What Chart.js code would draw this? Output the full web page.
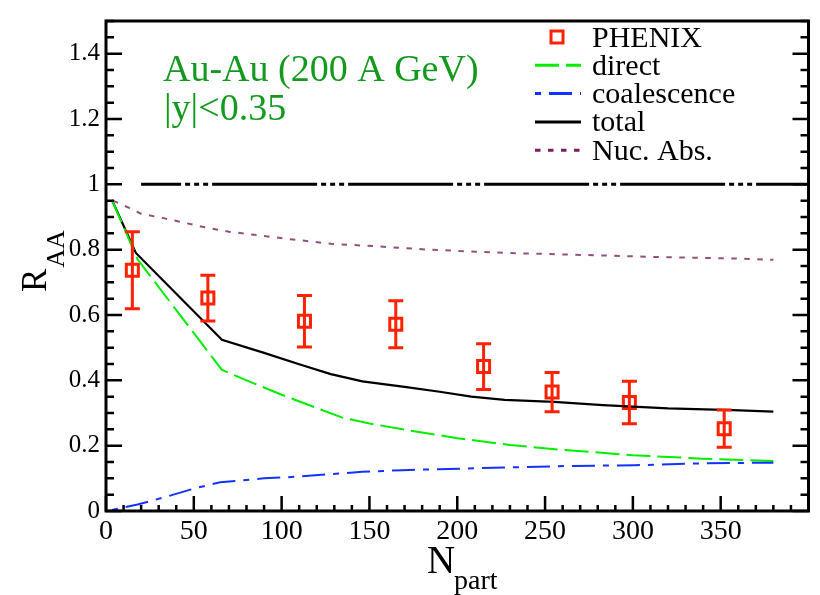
<!DOCTYPE html>
<html>
<head>
<meta charset="utf-8">
<title>J/psi R_AA vs Npart</title>
<script src="https://cdn.jsdelivr.net/npm/chart.js@4/dist/chart.umd.min.js"></script>
<style>
  html, body { margin: 0; padding: 0; background: #fff; }
  canvas { display: block; }
</style>
</head>
<body>
<canvas id="c" width="820" height="595"></canvas>
<script>
// ---- data: number of participants (N_part) and nuclear modification factor R_AA ----
const phenixN   = [15, 58, 113, 165, 215, 254, 298, 352];
const phenixR   = [0.737, 0.652, 0.581, 0.572, 0.442, 0.364, 0.332, 0.252];
const phenixErr = [0.118, 0.070, 0.079, 0.072, 0.070, 0.060, 0.065, 0.057];

const directN = [3.4, 18, 66, 80, 100, 120, 135, 150, 170, 200, 230, 260, 300, 340, 380];
const directR = [0.952, 0.770, 0.432, 0.400, 0.356, 0.315, 0.285, 0.268, 0.249, 0.223, 0.202, 0.187, 0.171, 0.160, 0.153];

const coalN = [3.4, 18, 34, 51, 65, 90, 109, 128, 146, 169, 189, 227, 264, 301, 339, 380];
const coalR = [0.003, 0.020, 0.043, 0.070, 0.088, 0.100, 0.105, 0.113, 0.120, 0.125, 0.128, 0.133, 0.138, 0.140, 0.146, 0.148];

const totalN = [3.4, 17, 66, 90, 110, 128, 146, 170, 190, 208, 227, 255, 283, 320, 357, 380];
const totalR = [0.952, 0.790, 0.524, 0.484, 0.449, 0.419, 0.397, 0.380, 0.365, 0.350, 0.340, 0.334, 0.324, 0.314, 0.309, 0.304];

const nucAbsN = [4, 13.5, 20, 34, 55, 70, 105, 128, 155, 184, 227, 264, 311, 357, 380];
const nucAbsR = [0.950, 0.927, 0.910, 0.895, 0.870, 0.855, 0.832, 0.818, 0.810, 0.800, 0.790, 0.785, 0.778, 0.773, 0.769];

// reference line R_AA = 1
const unityN = [20, 400];
const unityR = [1, 1];

// axis ticks
const xTickValues = [0, 50, 100, 150, 200, 250, 300, 350];
const yTickValues = [0, 0.2, 0.4, 0.6, 0.8, 1, 1.2, 1.4];
const xMinorStep = 10;
const yMinorStep = 0.05;

const legendOrder = ['PHENIX', 'direct', 'coalescence', 'total', 'Nuc. Abs.'];

const SERIF = '"Liberation Serif", "Times New Roman", Times, serif';
const RED = '#ff2200';

const toXY = (xs, ys) => xs.map((x, i) => ({ x: x, y: ys[i] }));

// error bars, frame, inward ticks, legend and labels
const decorations = {
  id: 'decorations',
  afterDatasetsDraw(chart) {
    const ctx = chart.ctx;
    const xs = chart.scales.x, ys = chart.scales.y;
    ctx.save();
    ctx.strokeStyle = RED;
    ctx.lineWidth = 3;
    ctx.setLineDash([]);
    phenixN.forEach((n, i) => {
      const px = xs.getPixelForValue(n);
      const yTop = ys.getPixelForValue(phenixR[i] + phenixErr[i]);
      const yBot = ys.getPixelForValue(phenixR[i] - phenixErr[i]);
      const cap = 7.5;
      ctx.beginPath();
      ctx.moveTo(px, yTop); ctx.lineTo(px, yBot);
      ctx.moveTo(px - cap, yTop); ctx.lineTo(px + cap, yTop);
      ctx.moveTo(px - cap, yBot); ctx.lineTo(px + cap, yBot);
      ctx.stroke();
    });
    ctx.restore();
  },
  afterDraw(chart) {
    const ctx = chart.ctx;
    const { left, right, top, bottom } = chart.chartArea;
    const xs = chart.scales.x, ys = chart.scales.y;
    ctx.save();
    ctx.setLineDash([]);
    ctx.strokeStyle = '#000';

    // inward ticks: bottom axis, left and right axes
    ctx.lineWidth = 2.5;
    ctx.beginPath();
    for (let v = xs.min; v <= xs.max + 1e-9; v += xMinorStep) {
      const px = xs.getPixelForValue(v);
      const major = Math.abs(v % 50) < 1e-6;
      const len = major ? 15 : 6;
      ctx.moveTo(px, bottom); ctx.lineTo(px, bottom - len);
    }
    const nY = Math.round((ys.max - ys.min) / yMinorStep);
    for (let k = 0; k <= nY; k++) {
      const v = ys.min + k * yMinorStep;
      const py = ys.getPixelForValue(v);
      const major = k % 4 === 0;
      const len = major ? 16 : 8;
      ctx.moveTo(left, py); ctx.lineTo(left + len, py);
      ctx.moveTo(right, py); ctx.lineTo(right - len, py);
    }
    ctx.stroke();

    // frame
    ctx.lineWidth = 3;
    ctx.strokeRect(left, top, right - left, bottom - top);

    // legend
    const rowY0 = 37, rowStep = 28.3;
    const sampleX0 = 535, sampleX1 = 581, textX = 592;
    ctx.font = '30px ' + SERIF;
    ctx.textAlign = 'left';
    ctx.textBaseline = 'alphabetic';
    legendOrder.forEach((label, i) => {
      const ds = chart.data.datasets.find(d => d.label === label);
      const y = rowY0 + i * rowStep;
      ctx.save();
      if (ds.showLine === false) {
        ctx.strokeStyle = ds.borderColor;
        ctx.lineWidth = 3;
        ctx.strokeRect(557 - 6, y - 6, 12, 12);
      } else {
        ctx.strokeStyle = ds.legendColor || ds.borderColor;
        ctx.lineWidth = 3;
        ctx.setLineDash(ds.borderDash || []);
        ctx.lineDashOffset = ds.borderDashOffset || 0;
        ctx.beginPath();
        ctx.moveTo(sampleX0, y); ctx.lineTo(sampleX1, y);
        ctx.stroke();
      }
      ctx.restore();
      ctx.fillStyle = '#000';
      ctx.fillText(label, textX, y + 9.5);
    });

    // system label
    ctx.fillStyle = '#139a1e';
    ctx.font = '38px ' + SERIF;
    ctx.fillText('Au-Au (200 A GeV)', 163, 81);
    ctx.fillText('|y|<0.35', 164, 120);

    // x axis title: N_part
    ctx.fillStyle = '#000';
    ctx.font = '39px ' + SERIF;
    ctx.fillText('N', 427, 573);
    ctx.font = '28px ' + SERIF;
    ctx.fillText('part', 454, 589);

    // y axis title: R_AA (rotated)
    ctx.save();
    ctx.translate(46, 292);
    ctx.rotate(-Math.PI / 2);
    ctx.font = '35px ' + SERIF;
    ctx.fillText('R', 0, 0);
    const wR = ctx.measureText('R').width;
    ctx.font = '26px ' + SERIF;
    ctx.fillText('AA', wR + 1, 18);
    ctx.restore();

    ctx.restore();
  }
};

new Chart(document.getElementById('c').getContext('2d'), {
  type: 'line',
  data: {
    datasets: [
      {
        label: 'Nuc. Abs.',
        data: toXY(nucAbsN, nucAbsR),
        borderColor: '#93507f',
        legendColor: '#7b1d60',
        borderWidth: 2,
        borderDash: [5.5, 7.5],
        pointRadius: 0,
        fill: false,
        tension: 0
      },
      {
        label: 'coalescence',
        data: toXY(coalN, coalR),
        borderColor: '#1233ff',
        borderWidth: 2,
        borderDash: [23, 8, 6, 8],
        borderDashOffset: 31,
        pointRadius: 0,
        fill: false,
        tension: 0
      },
      {
        label: 'direct',
        data: toXY(directN, directR),
        borderColor: '#00ee00',
        borderWidth: 2,
        borderDash: [24, 7],
        pointRadius: 0,
        fill: false,
        tension: 0
      },
      {
        label: 'total',
        data: toXY(totalN, totalR),
        borderColor: '#000000',
        borderWidth: 2.2,
        borderDash: [],
        pointRadius: 0,
        fill: false,
        tension: 0
      },
      {
        label: 'unity',
        data: toXY(unityN, unityR),
        borderColor: '#000000',
        borderWidth: 3,
        borderDash: [105, 4, 5, 4, 5, 4, 5, 4],
        borderDashOffset: 65,
        pointRadius: 0,
        fill: false
      },
      {
        label: 'PHENIX',
        data: toXY(phenixN, phenixR),
        showLine: false,
        pointStyle: 'rect',
        pointRadius: 8.5,
        pointBorderWidth: 3,
        borderColor: RED,
        pointBorderColor: RED,
        pointBackgroundColor: 'rgba(0,0,0,0)',
        backgroundColor: 'rgba(0,0,0,0)'
      }
    ]
  },
  options: {
    responsive: false,
    animation: false,
    events: [],
    layout: { padding: { top: 12, right: 1, left: 0, bottom: 0 } },
    plugins: {
      legend: { display: false },
      tooltip: { enabled: false }
    },
    scales: {
      x: {
        type: 'linear',
        min: 0,
        max: 400,
        afterFit(s) { s.height = 84; },
        afterBuildTicks(s) { s.ticks = xTickValues.map(v => ({ value: v })); },
        grid: { display: false, drawTicks: false },
        border: { display: false },
        ticks: {
          font: { family: SERIF, size: 28 },
          color: '#000',
          padding: 4,
          maxRotation: 0,
          autoSkip: false,
          callback: v => String(v)
        }
      },
      y: {
        type: 'linear',
        min: 0,
        max: 1.5,
        afterFit(s) { s.width = 106; },
        afterBuildTicks(s) { s.ticks = yTickValues.map(v => ({ value: v })); },
        grid: { display: false, drawTicks: false },
        border: { display: false },
        ticks: {
          font: { family: SERIF, size: 25 },
          color: '#000',
          padding: 6,
          autoSkip: false,
          callback: v => String(Math.round(v * 100) / 100)
        }
      }
    }
  },
  plugins: [decorations]
});
</script>
</body>
</html>
